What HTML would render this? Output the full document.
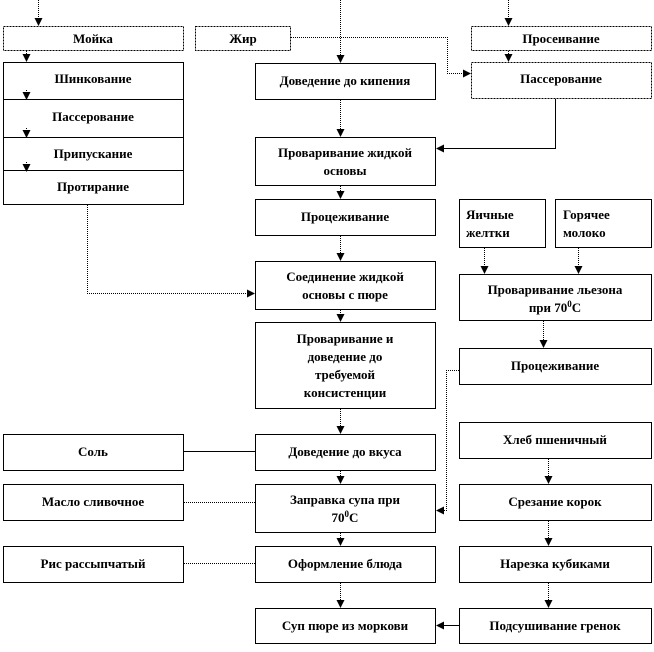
<!DOCTYPE html>
<html><head><meta charset="utf-8"><style>
body{margin:0;background:#fff;}
svg text{font-family:"Liberation Serif","DejaVu Serif",serif;font-weight:bold;font-size:13px;text-anchor:middle;fill:#000;}
</style></head><body>
<svg width="654" height="647" viewBox="0 0 654 647" xmlns="http://www.w3.org/2000/svg">
<defs><marker id="a" markerWidth="8" markerHeight="8" refX="7" refY="4" orient="auto" markerUnits="userSpaceOnUse"><path d="M0,0 L8,4 L0,8z" fill="#000"/></marker></defs>
<g fill="#fff" stroke="#000" stroke-width="1">
<rect x="3.5" y="26.5" width="180" height="24" stroke-dasharray="2,1"/>
<rect x="195.5" y="26.5" width="95" height="24" stroke-dasharray="2,1"/>
<rect x="471.5" y="26.5" width="180" height="24" stroke-dasharray="2,1"/>
<rect x="3.5" y="62.5" width="180" height="142"/>
<line x1="3" y1="99.5" x2="183" y2="99.5"/><line x1="3" y1="137.5" x2="183" y2="137.5"/><line x1="3" y1="170.5" x2="183" y2="170.5"/>
<rect x="255.5" y="63.5" width="180" height="36"/>
<rect x="471.5" y="62.5" width="180" height="36" stroke-dasharray="2,1"/>
<rect x="255.5" y="137.5" width="180" height="48"/>
<rect x="255.5" y="199.5" width="180" height="36"/>
<rect x="459.5" y="199.5" width="86" height="48"/>
<rect x="555.5" y="199.5" width="96" height="48"/>
<rect x="255.5" y="261.5" width="180" height="48"/>
<rect x="459.5" y="274.5" width="192" height="46"/>
<rect x="255.5" y="322.5" width="180" height="86"/>
<rect x="459.5" y="348.5" width="192" height="36"/>
<rect x="3.5" y="434.5" width="180" height="36"/>
<rect x="255.5" y="434.5" width="180" height="36"/>
<rect x="459.5" y="422.5" width="192" height="36"/>
<rect x="3.5" y="484.5" width="180" height="36"/>
<rect x="255.5" y="484.5" width="180" height="48"/>
<rect x="459.5" y="484.5" width="192" height="36"/>
<rect x="3.5" y="546.5" width="180" height="36"/>
<rect x="255.5" y="546.5" width="180" height="36"/>
<rect x="459.5" y="546.5" width="192" height="36"/>
<rect x="255.5" y="608.5" width="180" height="35"/>
<rect x="459.5" y="608.5" width="192" height="35"/>
</g>
<g stroke="#000" stroke-width="1" fill="none" stroke-dasharray="1,1" marker-end="url(#a)">
<line x1="38.5" y1="0" x2="38.5" y2="25"/>
<line x1="26.5" y1="51" x2="26.5" y2="61"/>
<line x1="26.5" y1="90" x2="26.5" y2="99"/>
<line x1="26.5" y1="128" x2="26.5" y2="137"/>
<line x1="26.5" y1="162" x2="26.5" y2="171"/>
<line x1="340.5" y1="0" x2="340.5" y2="62"/>
<line x1="508.5" y1="0" x2="508.5" y2="25"/>
<line x1="508.5" y1="51" x2="508.5" y2="61"/>
<polyline points="291,37.5 447.5,37.5 447.5,73.5 470,73.5"/>
<polyline points="555.5,99 555.5,148.5 437,148.5" stroke-dasharray="none"/>
<line x1="340.5" y1="100" x2="340.5" y2="136"/>
<line x1="340.5" y1="186" x2="340.5" y2="198"/>
<line x1="340.5" y1="236" x2="340.5" y2="260"/>
<polyline points="87.5,205 87.5,293.5 254,293.5"/>
<line x1="340.5" y1="310" x2="340.5" y2="321"/>
<line x1="484.5" y1="248" x2="484.5" y2="273"/>
<line x1="578.5" y1="248" x2="578.5" y2="273"/>
<line x1="543.5" y1="321" x2="543.5" y2="347"/>
<line x1="340.5" y1="409" x2="340.5" y2="433"/>
<polyline points="459,370.5 446.5,370.5 446.5,510.5 437,510.5"/>
<line x1="340.5" y1="471" x2="340.5" y2="483"/>
<line x1="340.5" y1="533" x2="340.5" y2="545"/>
<line x1="340.5" y1="583" x2="340.5" y2="607"/>
<line x1="548.5" y1="459" x2="548.5" y2="483"/>
<line x1="548.5" y1="521" x2="548.5" y2="545"/>
<line x1="548.5" y1="583" x2="548.5" y2="607"/>
<line x1="459" y1="625.5" x2="437" y2="625.5" stroke-dasharray="none"/>
</g>
<g stroke="#000" stroke-width="1">
<line x1="184" y1="451.5" x2="255" y2="451.5"/>
<line x1="184" y1="502.5" x2="255" y2="502.5" stroke-dasharray="1,1"/>
<line x1="184" y1="563.5" x2="255" y2="563.5" stroke-dasharray="1,1"/>
</g>
<text x="93" y="43">Мойка</text>
<text x="243" y="43">Жир</text>
<text x="561" y="43">Просеивание</text>
<text x="93" y="83">Шинкование</text>
<text x="93" y="121">Пассерование</text>
<text x="93" y="158">Припускание</text>
<text x="93" y="191">Протирание</text>
<text x="345" y="85">Доведение до кипения</text>
<text x="561" y="83">Пассерование</text>
<text x="345" y="157">Проваривание жидкой</text>
<text x="345" y="175">основы</text>
<text x="345" y="221">Процеживание</text>
<text x="466" y="219" style="text-anchor:start">Яичные</text>
<text x="466" y="237" style="text-anchor:start">желтки</text>
<text x="563" y="219" style="text-anchor:start">Горячее</text>
<text x="563" y="237" style="text-anchor:start">молоко</text>
<text x="345" y="281">Соединение жидкой</text>
<text x="345" y="299">основы с пюре</text>
<text x="555" y="294">Проваривание льезона</text>
<text x="555" y="312">при 70<tspan dy="-5" font-size="9">0</tspan><tspan dy="5">С</tspan></text>
<text x="345" y="343">Проваривание и</text>
<text x="345" y="361">доведение до</text>
<text x="345" y="379">требуемой</text>
<text x="345" y="397">консистенции</text>
<text x="555" y="370">Процеживание</text>
<text x="93" y="456">Соль</text>
<text x="345" y="456">Доведение до вкуса</text>
<text x="555" y="444">Хлеб пшеничный</text>
<text x="93" y="506">Масло сливочное</text>
<text x="345" y="504">Заправка супа при</text>
<text x="345" y="522">70<tspan dy="-5" font-size="9">0</tspan><tspan dy="5">С</tspan></text>
<text x="555" y="506">Срезание корок</text>
<text x="93" y="568">Рис рассыпчатый</text>
<text x="345" y="568">Оформление блюда</text>
<text x="555" y="568">Нарезка кубиками</text>
<text x="345" y="630">Суп пюре из моркови</text>
<text x="555" y="630">Подсушивание гренок</text>
</svg>
</body></html>
